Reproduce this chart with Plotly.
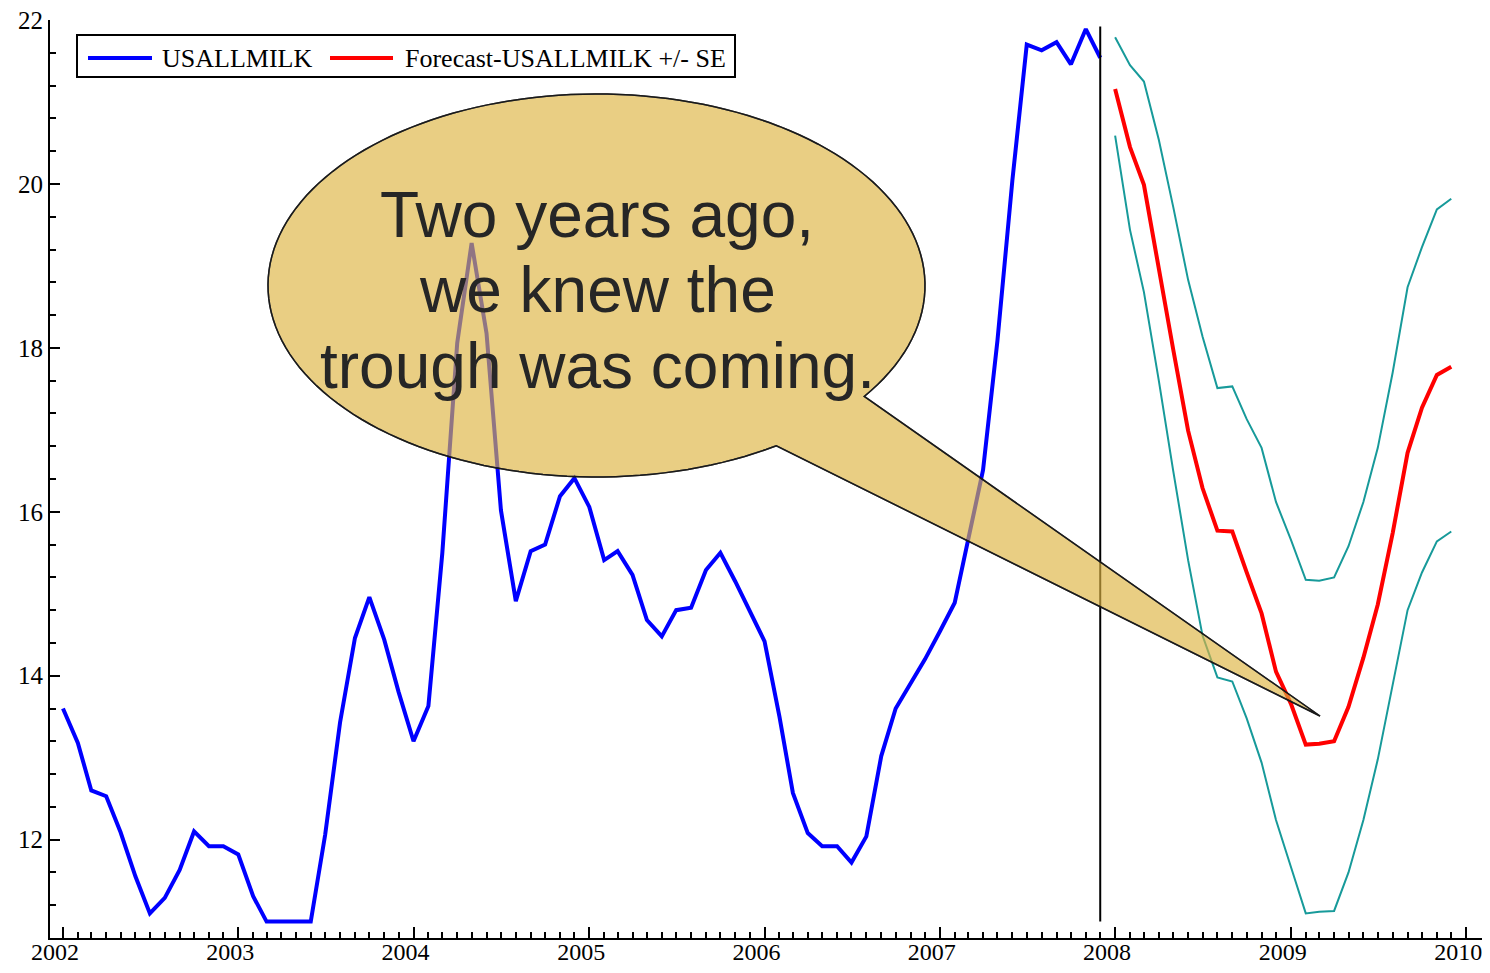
import numpy as np
import pandas as pd
import plotly.graph_objects as go

# ---------------- data ----------------
milk_values = [
    13.60, 13.18, 12.60, 12.53, 12.09, 11.55, 11.10, 11.29, 11.63, 12.10, 11.92, 11.92,   # 2002
    11.82, 11.31, 11.00, 11.00, 11.00, 11.00, 12.06, 13.43, 14.46, 14.96, 14.44, 13.80,   # 2003
    13.20, 13.63, 15.50, 18.06, 19.28, 18.18, 16.02, 14.91, 15.52, 15.60, 16.19, 16.41,   # 2004
    16.06, 15.41, 15.52, 15.23, 14.68, 14.48, 14.80, 14.83, 15.29, 15.50, 15.15, 14.80,   # 2005
    14.42, 13.50, 12.57, 12.08, 11.92, 11.92, 11.72, 12.04, 13.02, 13.60, 13.91, 14.20,   # 2006
    14.54, 14.89, 15.66, 16.51, 18.09, 20.04, 21.70, 21.63, 21.73, 21.46, 21.89, 21.54,   # 2007
]
forecast_mean = [
    21.16, 20.45, 19.99, 18.95, 17.98, 16.99, 16.29, 15.77, 15.76, 15.26, 14.76, 14.05,   # 2008
    13.66, 13.16, 13.17, 13.20, 13.62, 14.22, 14.87, 15.74, 16.72, 17.27, 17.67, 17.77,   # 2009
]
forecast_upper = [
    21.79, 21.45, 21.25, 20.54, 19.72, 18.83, 18.14, 17.51, 17.53, 17.13, 16.78, 16.12,
    15.66, 15.17, 15.16, 15.20, 15.58, 16.12, 16.78, 17.70, 18.74, 19.23, 19.69, 19.82,
]
forecast_lower = [
    20.59, 19.44, 18.68, 17.60, 16.50, 15.41, 14.49, 13.98, 13.93, 13.48, 12.94, 12.24,
    11.67, 11.10, 11.12, 11.13, 11.60, 12.24, 12.98, 13.87, 14.80, 15.26, 15.64, 15.76,
]
history_start = "2002-01-01"
forecast_start = "2008-01-01"
y_tick_values = [12, 14, 16, 18, 20, 22]
legend_labels = ["USALLMILK", "Forecast-USALLMILK +/- SE"]
callout_lines = ["Two years ago,", "we knew the", "trough was coming."]
divider_span = [11.0, 21.92]

hist_dates = pd.date_range(history_start, periods=len(milk_values), freq="MS")
fc_dates = pd.date_range(forecast_start, periods=len(forecast_mean), freq="MS")

# ---------------- layout geometry (page pixels) ----------------
BODY = 8                      # default body margin of the html page
PAGE_W, PAGE_H = 1490, 973
FIG_W, FIG_H = PAGE_W - 2 * BODY, PAGE_H - 2 * BODY
PL, PT, PR, PB = 50, 20, 1483, 938       # plot area on page
ML, MT = PL - BODY, PT - BODY
MR = max(0, FIG_W - (PR - BODY))
MB = FIG_H - (PB - BODY)
PW = FIG_W - ML - MR
PH = FIG_H - MT - MB


def px(xp):
    return (xp - PL) / PW


def py(yp):
    return 1 - (yp - PT) / PH


SERIF = "Liberation Serif"
SANS = "Liberation Sans"
TEAL = "#179a9a"

fig = go.Figure()

fig.add_trace(go.Scatter(x=fc_dates, y=forecast_upper, mode="lines",
                         line=dict(color=TEAL, width=2), showlegend=False))
fig.add_trace(go.Scatter(x=fc_dates, y=forecast_lower, mode="lines",
                         line=dict(color=TEAL, width=2), showlegend=False))
fig.add_trace(go.Scatter(x=fc_dates, y=forecast_mean, mode="lines",
                         line=dict(color="#ff0000", width=4), showlegend=False))
fig.add_trace(go.Scatter(x=hist_dates, y=milk_values, mode="lines",
                         line=dict(color="#0000ff", width=4), showlegend=False))
fig.add_trace(go.Scatter(x=[hist_dates[-1], hist_dates[-1]], y=divider_span, mode="lines",
                         line=dict(color="#000000", width=2), showlegend=False))

# ---------------- callout bubble ----------------
cx, cy, rx, ry = 596.5, 285.5, 328.5, 191.5
t1, t2 = np.deg2rad(56.8), np.deg2rad(35.4) + 2 * np.pi
ts = np.linspace(t1, t2, 160)
pts = [(cx + rx * np.cos(t), cy + ry * np.sin(t)) for t in ts]
pts.append((1320, 716))
path = "M " + " L ".join(f"{px(a):.5f},{py(b):.5f}" for a, b in pts) + " Z"
fig.add_shape(type="path", path=path, xref="paper", yref="paper",
              fillcolor="rgb(222,180,66)", opacity=0.65,
              line=dict(color="#000000", width=1.5), layer="above")
fig.add_shape(type="path", path=path, xref="paper", yref="paper",
              fillcolor="rgba(0,0,0,0)",
              line=dict(color="#1a1a1a", width=1.5), layer="above")

for line_txt, yc in zip(callout_lines, [215, 290, 366]):
    fig.add_annotation(text=line_txt, x=px(597), y=py(yc), xref="paper", yref="paper",
                       xanchor="center", yanchor="middle", showarrow=False,
                       font=dict(family=SANS, size=64, color="#262626"))

# ---------------- legend (drawn) ----------------
fig.add_shape(type="rect", xref="paper", yref="paper",
              x0=px(77), x1=px(735), y0=py(35), y1=py(77),
              line=dict(color="#000000", width=2), fillcolor="white", layer="above")
fig.add_shape(type="line", xref="paper", yref="paper",
              x0=px(88), x1=px(152), y0=py(58), y1=py(58),
              line=dict(color="#0000ff", width=4), layer="above")
fig.add_shape(type="line", xref="paper", yref="paper",
              x0=px(330), x1=px(393), y0=py(58), y1=py(58),
              line=dict(color="#ff0000", width=4), layer="above")
for lbl, xl in zip(legend_labels, [160, 403]):
    fig.add_annotation(text=lbl, x=px(xl), y=py(58), xref="paper", yref="paper",
                       xanchor="left", yanchor="middle", showarrow=False,
                       font=dict(family=SERIF, size=26, color="#000000"))

fig.update_layout(
    width=FIG_W, height=FIG_H,
    margin=dict(l=ML, r=MR, t=MT, b=MB, pad=0),
    paper_bgcolor="white", plot_bgcolor="white",
    showlegend=False,
    font=dict(family=SERIF, size=26, color="#000000"),
)
fig.update_xaxes(
    type="date",
    range=["2001-12-05", "2010-02-03"],
    tick0="2002-01-01", dtick="M12", tickformat="%Y",
    ticks="inside", ticklen=11, tickwidth=2, tickcolor="#000000",
    minor=dict(dtick="M1", ticks="inside", ticklen=6, tickwidth=2, tickcolor="#000000"),
    showline=True, linecolor="#000000", linewidth=2,
    showgrid=False, zeroline=False, automargin=False,
    tickfont=dict(family=SERIF, size=24, color="#000000"),
    ticklabelshift=-8, ticklabelstandoff=-9, ticklabeloverflow="allow",
)
fig.update_yaxes(
    range=[10.8, 22.0005],
    tickmode="linear", tick0=y_tick_values[0], dtick=y_tick_values[1] - y_tick_values[0],
    ticks="inside", ticklen=10, tickwidth=2, tickcolor="#000000",
    minor=dict(tickmode="linear", tick0=0, dtick=0.4, ticks="inside", ticklen=6,
               tickwidth=2, tickcolor="#000000"),
    showline=True, linecolor="#000000", linewidth=2,
    showgrid=False, zeroline=False, automargin=False,
    tickfont=dict(family=SERIF, size=25, color="#000000"),
    ticklabeloverflow="allow",
)

fig.write_html("out.html")
